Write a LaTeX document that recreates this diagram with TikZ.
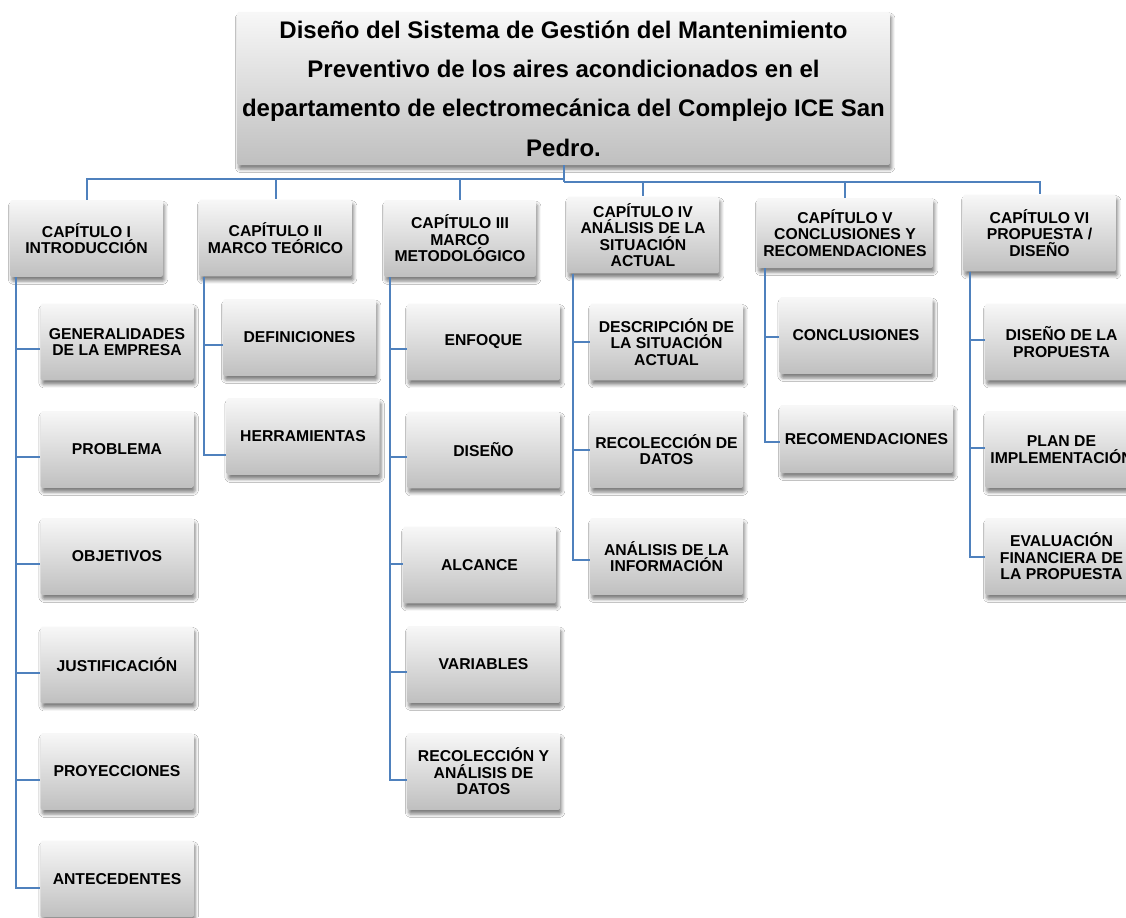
\documentclass[tikz,border=0pt]{standalone}
\usepackage{fontspec}
\setmainfont{Liberation Sans}
\usetikzlibrary{calc,shadows.blur}
\definecolor{linkblue}{RGB}{79,129,189}
\tikzset{
  conn/.style={draw=linkblue, line width=1.5pt},
  card/.style={rectangle, rounded corners=1.2pt, draw=none,
    top color=black!3, bottom color=black!25,
    blur shadow={shadow xshift=1.2pt, shadow yshift=-3.2pt,
                 shadow blur radius=2.5pt, shadow opacity=50},
    align=center, inner sep=2pt,
    minimum width=114.75pt, minimum height=57.5pt,
    font=\fontsize{11.8}{12.4}\selectfont\bfseries},
  titlecard/.style={card, minimum width=489.75pt, minimum height=114.75pt,
    font=\fontsize{18}{29.5}\selectfont\bfseries},
}
\begin{document}
\begin{tikzpicture}[x=0.75pt, y=-0.75pt]
\useasboundingbox (0,0) rectangle (1126,917);
\clip (0,0) rectangle (1126,917);
\fill[white] (0,0) rectangle (1126,917);

% title
\node[titlecard] (title) at (563.5,88.5)
  {Diseño del Sistema de Gestión del Mantenimiento\\
   Preventivo de los aires acondicionados en el\\
   departamento de electromecánica del Complejo ICE San\\
   Pedro.};

% chapters
\node[card] (ch1) at (86.5,238.5) {CAPÍTULO I\\INTRODUCCIÓN};
\node[card] (ch2) at (275.5,238) {CAPÍTULO II\\MARCO TEÓRICO};
\node[card, minimum width=114pt] (ch3) at (460,238.5) {CAPÍTULO III\\MARCO\\METODOLÓGICO};
\node[card, minimum width=114pt] (ch4) at (643,235) {CAPÍTULO IV\\ANÁLISIS DE LA\\SITUACIÓN\\ACTUAL};
\node[card, minimum width=132pt, minimum height=52.5pt] (ch5) at (845,233) {CAPÍTULO V\\CONCLUSIONES Y\\RECOMENDACIONES};
\node[card] (ch6) at (1039.5,233) {CAPÍTULO VI\\PROPUESTA /\\DISEÑO};

% chapter I
\node[card] (gen)  at (117,342)   {GENERALIDADES\\DE LA EMPRESA};
\node[card] (prob) at (117,449.5) {PROBLEMA};
\node[card] (obj)  at (117,556.5) {OBJETIVOS};
\node[card] (just) at (117,665)   {JUSTIFICACIÓN};
\node[card] (proy) at (117,771.5) {PROYECCIONES};
\node[card] (ant)  at (117,879)   {ANTECEDENTES};

% chapter II
\node[card] (def)  at (299.5,337.5) {DEFINICIONES};
\node[card] (herr) at (303,436.5)   {HERRAMIENTAS};

% chapter III
\node[card] (enf) at (483.5,342)   {ENFOQUE};
\node[card] (dis) at (483.5,450)   {DISEÑO};
\node[card] (alc) at (479.5,565)   {ALCANCE};
\node[card] (var) at (483.5,664.5) {VARIABLES};
\node[card] (rec) at (483.5,771.5) {RECOLECCIÓN Y\\ANÁLISIS DE\\DATOS};

% chapter IV
\node[card] (desc) at (666.5,342)   {DESCRIPCIÓN DE\\LA SITUACIÓN\\ACTUAL};
\node[card] (recd) at (666.5,449.5) {RECOLECCIÓN DE\\DATOS};
\node[card] (ana)  at (666.5,556.5) {ANÁLISIS DE LA\\INFORMACIÓN};

% chapter V
\node[card] (conc)  at (856,335.5) {CONCLUSIONES};
\node[card, minimum width=129.75pt, minimum height=51pt] (recom) at (866.5,439) {RECOMENDACIONES};

% chapter VI
\node[card] (dpro) at (1061.5,342)   {DISEÑO DE LA\\PROPUESTA};
\node[card] (plan) at (1061.5,449.5) {PLAN DE\\IMPLEMENTACIÓN};
\node[card] (eval) at (1061.5,556.5) {EVALUACIÓN\\FINANCIERA DE\\LA PROPUESTA};

% bus from the title to the chapters
\coordinate (busL) at ($(title.south)+(0,14)$);
\coordinate (busR) at ($(title.south)+(0,17)$);
\draw[conn] (title.south) -- (busR);
\foreach \c in {ch1,ch2,ch3} \draw[conn] (busL) -| (\c.north);
\foreach \c in {ch4,ch5,ch6} \draw[conn] (busR) -| (\c.north);

% chapter I branches
\foreach \n/\d in {gen/7,prob/7.5,obj/7.5,just/8,proy/8.5,ant/9}
  \draw[conn] ($(ch1.south west)+(6,0)$) |- ($(\n.west)+(0,\d)$);
% chapter II branches
\foreach \n/\d in {def/7.5,herr/18.5}
  \draw[conn] ($(ch2.south west)+(5,0)$) |- ($(\n.west)+(0,\d)$);
% chapter III branches
\foreach \n/\d in {enf/7,dis/7,alc/-1,var/7.5,rec/8.5}
  \draw[conn] ($(ch3.south west)+(6,0)$) |- ($(\n.west)+(0,\d)$);
% chapter IV branches
\foreach \n/\d in {desc/0,recd/0.5,ana/3.5}
  \draw[conn] ($(ch4.south west)+(6,0)$) |- ($(\n.west)+(0,\d)$);
% chapter V branches
\foreach \n/\d in {conc/1.5,recom/3}
  \draw[conn] ($(ch5.south west)+(8,0)$) |- ($(\n.west)+(0,\d)$);
% chapter VI branches
\foreach \n/\d in {dpro/-2,plan/-1.5,eval/0.5}
  \draw[conn] ($(ch6.south west)+(7,0)$) |- ($(\n.west)+(0,\d)$);
\end{tikzpicture}
\end{document}
